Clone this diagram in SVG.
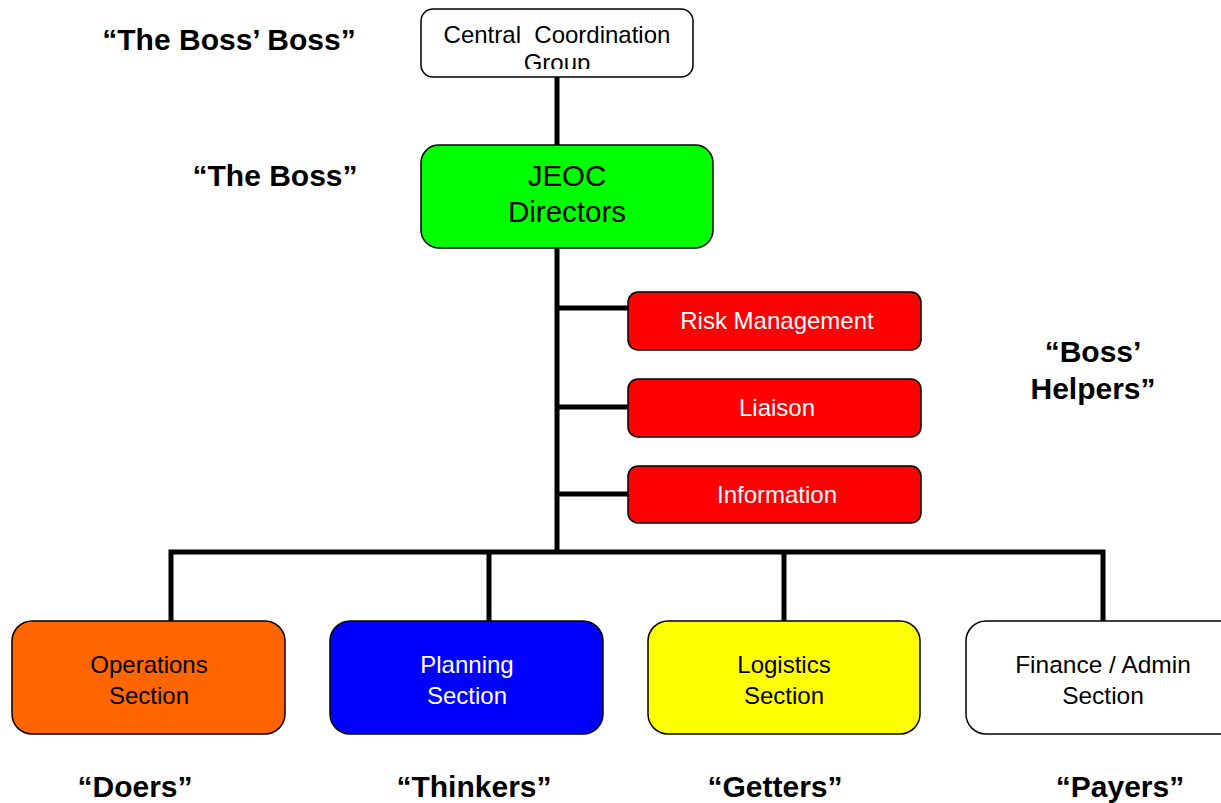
<svg xmlns="http://www.w3.org/2000/svg" width="1221" height="803" viewBox="0 0 1221 803">
<style>
.box{stroke:#000;stroke-width:1.5}
.t{font-family:"Liberation Sans",Arial,sans-serif;text-anchor:middle}
.lbl{font-family:"Liberation Sans",Arial,sans-serif;font-weight:bold;font-size:30px;text-anchor:middle;fill:#000}
.con{stroke:#000;stroke-width:5;fill:none}
</style>
<defs>
<clipPath id="ccgClip"><rect x="421" y="9" width="272" height="60"/></clipPath>
</defs>
<rect width="1221" height="803" fill="#fff"/>
<g id="connectors">
<line class="con" x1="557" y1="77" x2="557" y2="145"/>
<line class="con" x1="557" y1="248" x2="557" y2="554"/>
<line class="con" x1="557" y1="308" x2="628" y2="308"/>
<line class="con" x1="557" y1="407" x2="628" y2="407"/>
<line class="con" x1="557" y1="494" x2="628" y2="494"/>
<polyline class="con" points="171,621 171,552 1103,552 1103,621"/>
<line class="con" x1="489" y1="552" x2="489" y2="621"/>
<line class="con" x1="784" y1="552" x2="784" y2="621"/>
</g>
<g id="ccg">
<rect class="box" x="421" y="9" width="272" height="68" rx="12" fill="#fff"/>
<text class="t" font-size="24" x="557" y="43" xml:space="preserve">Central  Coordination</text>
<text class="t" font-size="24" x="557" y="71" clip-path="url(#ccgClip)">Group</text>
</g>
<g id="jeoc">
<rect class="box" x="421" y="145" width="292" height="103" rx="18" fill="#00ff00"/>
<text class="t" font-size="29.5" x="567" y="186">JEOC</text>
<text class="t" font-size="29.5" x="567" y="222">Directors</text>
</g>
<g id="risk">
<rect class="box" x="628" y="292" width="293" height="58" rx="10" fill="#ff0000"/>
<text class="t" font-size="24" x="777" y="329" fill="#fff">Risk Management</text>
</g>
<g id="liaison">
<rect class="box" x="628" y="379" width="293" height="58" rx="10" fill="#ff0000"/>
<text class="t" font-size="24" x="777" y="416" fill="#fff">Liaison</text>
</g>
<g id="information">
<rect class="box" x="628" y="466" width="293" height="57" rx="10" fill="#ff0000"/>
<text class="t" font-size="24" x="777" y="503" fill="#fff">Information</text>
</g>
<g id="operations">
<rect class="box" x="12" y="621" width="273" height="113" rx="20" fill="#ff6600"/>
<text class="t" font-size="24" x="149" y="673">Operations</text>
<text class="t" font-size="24" x="149" y="704">Section</text>
</g>
<g id="planning">
<rect class="box" x="330" y="621" width="273" height="113" rx="20" fill="#0000ff"/>
<text class="t" font-size="24" x="467" y="673" fill="#fff">Planning</text>
<text class="t" font-size="24" x="467" y="704" fill="#fff">Section</text>
</g>
<g id="logistics">
<rect class="box" x="648" y="621" width="272" height="113" rx="20" fill="#ffff00"/>
<text class="t" font-size="24" x="784" y="673">Logistics</text>
<text class="t" font-size="24" x="784" y="704">Section</text>
</g>
<g id="finance">
<rect class="box" x="966" y="621" width="275" height="113" rx="20" fill="#fff"/>
<text class="t" font-size="24.5" x="1103" y="673">Finance / Admin</text>
<text class="t" font-size="24.5" x="1103" y="704">Section</text>
</g>
<g id="labels">
<text class="lbl" x="229" y="50">“The Boss’ Boss”</text>
<text class="lbl" x="275" y="186">“The Boss”</text>
<text class="lbl" x="1093" y="362">“Boss’</text>
<text class="lbl" x="1093" y="399">Helpers”</text>
<text class="lbl" x="135" y="797">“Doers”</text>
<text class="lbl" x="474" y="797">“Thinkers”</text>
<text class="lbl" x="775" y="797">“Getters”</text>
<text class="lbl" x="1120" y="797">“Payers”</text>
</g>
</svg>
